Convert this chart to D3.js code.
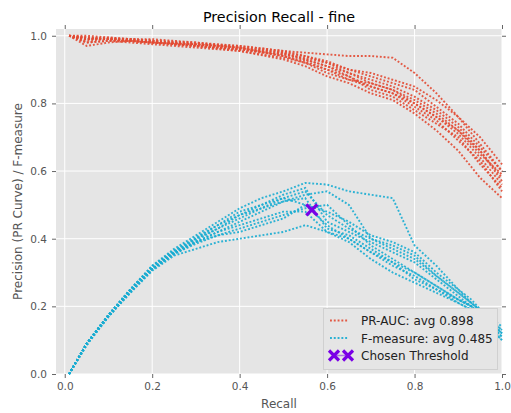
<!DOCTYPE html>
<html><head><meta charset="utf-8">
<script src="https://cdn.jsdelivr.net/npm/d3@7"></script>
<style>body{margin:0;background:#fff}text{font-family:"DejaVu Sans",sans-serif}</style>
</head><body><svg id="c" width="511" height="413"></svg>
<script>
const prRecall = [0.01,0.05,0.1,0.15,0.2,0.3,0.4,0.5,0.55,0.6,0.65,0.7,0.75,0.8,0.85,0.9,0.95,1.0];
const prPrecision = [
 [1.0,0.995,0.99,0.99,0.985,0.98,0.97,0.955,0.95,0.945,0.94,0.94,0.935,0.89,0.83,0.76,0.68,0.60],
 [1.0,0.97,0.98,0.985,0.98,0.975,0.965,0.94,0.92,0.89,0.87,0.86,0.84,0.80,0.76,0.72,0.66,0.58],
 [1.0,0.99,0.995,0.99,0.99,0.98,0.965,0.95,0.93,0.91,0.88,0.84,0.82,0.78,0.74,0.70,0.62,0.55],
 [1.0,0.985,0.99,0.985,0.98,0.97,0.96,0.945,0.935,0.92,0.9,0.88,0.86,0.84,0.79,0.74,0.67,0.60],
 [1.0,0.98,0.985,0.98,0.975,0.965,0.955,0.93,0.91,0.88,0.86,0.83,0.81,0.77,0.72,0.66,0.58,0.52],
 [1.0,1.0,0.995,0.99,0.985,0.975,0.97,0.955,0.94,0.925,0.9,0.89,0.87,0.85,0.81,0.76,0.70,0.62],
 [1.0,0.99,0.99,0.985,0.98,0.97,0.96,0.94,0.925,0.9,0.88,0.85,0.83,0.80,0.76,0.71,0.64,0.56],
 [1.0,0.995,0.99,0.99,0.985,0.975,0.965,0.95,0.94,0.92,0.89,0.87,0.85,0.82,0.78,0.73,0.66,0.57],
 [1.0,0.98,0.985,0.985,0.98,0.97,0.955,0.935,0.92,0.9,0.87,0.85,0.83,0.79,0.75,0.69,0.63,0.54],
 [1.0,0.99,0.99,0.985,0.98,0.975,0.96,0.945,0.93,0.91,0.89,0.86,0.84,0.81,0.77,0.72,0.65,0.59]
];
const fRecall = [0.01,0.05,0.1,0.15,0.2,0.25,0.3,0.35,0.4,0.45,0.5,0.55,0.6,0.65,0.7,0.75,0.8,0.85,0.9,0.93,1.0];
const fMeasure = [
 [0,0.09,0.175,0.25,0.32,0.37,0.41,0.45,0.49,0.52,0.54,0.565,0.56,0.54,0.53,0.52,0.38,0.32,0.25,0.21,0.13],
 [0,0.09,0.17,0.245,0.31,0.36,0.40,0.44,0.48,0.50,0.53,0.55,0.45,0.42,0.39,0.36,0.33,0.28,0.23,0.20,0.12],
 [0,0.085,0.17,0.24,0.31,0.355,0.39,0.42,0.45,0.48,0.51,0.52,0.43,0.41,0.37,0.33,0.30,0.26,0.22,0.20,0.11],
 [0,0.09,0.17,0.24,0.305,0.35,0.37,0.39,0.40,0.41,0.42,0.44,0.42,0.40,0.36,0.32,0.29,0.25,0.21,0.19,0.10],
 [0,0.09,0.175,0.25,0.315,0.36,0.39,0.41,0.43,0.45,0.47,0.49,0.50,0.44,0.38,0.34,0.30,0.26,0.22,0.20,0.12],
 [0,0.09,0.175,0.25,0.32,0.365,0.40,0.43,0.46,0.49,0.51,0.53,0.54,0.50,0.40,0.38,0.35,0.29,0.24,0.21,0.14],
 [0,0.09,0.17,0.245,0.31,0.36,0.395,0.43,0.47,0.49,0.52,0.50,0.44,0.40,0.36,0.33,0.28,0.25,0.22,0.20,0.11],
 [0,0.09,0.17,0.245,0.31,0.355,0.39,0.42,0.44,0.46,0.48,0.48,0.42,0.39,0.34,0.30,0.27,0.24,0.21,0.19,0.10],
 [0,0.09,0.175,0.25,0.315,0.365,0.405,0.44,0.47,0.50,0.52,0.54,0.47,0.43,0.40,0.37,0.34,0.29,0.24,0.21,0.13],
 [0,0.085,0.17,0.245,0.31,0.355,0.385,0.41,0.42,0.44,0.46,0.50,0.48,0.45,0.41,0.39,0.36,0.30,0.25,0.22,0.12]
];
const chosen = {recall: 0.565, f: 0.485};
const xTicks = [0,0.2,0.4,0.6,0.8,1.0];
const yTicks = [0,0.2,0.4,0.6,0.8,1.0];
const legendLabels = ["PR-AUC: avg 0.898","F-measure: avg 0.485","Chosen Threshold"];

const RED="#E24A33", BLUE="#17ACD2", PURPLE="#7A00E6";
const L=56,R=502,T=29,B=374;
const svg=d3.select("#c");
const x=d3.scaleLinear().domain([-0.02,1.0]).range([L,R]);
const y=d3.scaleLinear().domain([0,1.02]).range([B,T]);

svg.append("rect").attr("x",L).attr("y",T).attr("width",R-L).attr("height",B-T).attr("fill","#E5E5E5");
const grid=svg.append("g");
xTicks.forEach(t=>grid.append("line").attr("x1",x(t)).attr("x2",x(t)).attr("y1",T).attr("y2",B).attr("stroke","#fff").attr("stroke-width",1));
yTicks.forEach(t=>grid.append("line").attr("y1",y(t)).attr("y2",y(t)).attr("x1",L).attr("x2",R).attr("stroke","#fff").attr("stroke-width",1));

const tickFs=10.5;
function styleAxis(g){g.select(".domain").remove();g.selectAll(".tick line").attr("stroke","#666");g.selectAll(".tick text").attr("fill","#555").style("font-size",tickFs+"px").style("font-family","DejaVu Sans");}
svg.append("g").attr("transform",`translate(0,${B})`).call(d3.axisBottom(x).tickValues(xTicks).tickFormat(d3.format(".1f")).tickSize(4).tickPadding(5)).call(styleAxis);
svg.append("g").attr("transform",`translate(0,${T})`).call(d3.axisTop(x).tickValues(xTicks).tickFormat("").tickSize(4)).call(styleAxis);
svg.append("g").attr("transform",`translate(${L},0)`).call(d3.axisLeft(y).tickValues(yTicks).tickFormat(d3.format(".1f")).tickSize(4).tickPadding(5)).call(styleAxis);
svg.append("g").attr("transform",`translate(${R},0)`).call(d3.axisRight(y).tickValues(yTicks).tickFormat("").tickSize(4)).call(styleAxis);

svg.append("clipPath").attr("id","pc").append("rect").attr("x",L).attr("y",T-2).attr("width",R-L+2).attr("height",B-T+4);
const plot=svg.append("g").attr("clip-path","url(#pc)");
const line=d3.line().x(d=>x(d[0])).y(d=>y(d[1]));
const LW=1.9, DASH="1.9,1.9";
for(let i=0;i<prPrecision.length;i++){
  plot.append("path").datum(prRecall.map((r,j)=>[r,prPrecision[i][j]])).attr("d",line)
   .attr("fill","none").attr("stroke",RED).attr("stroke-width",LW).attr("stroke-dasharray",DASH).attr("opacity",0.9);
  plot.append("path").datum(fRecall.map((r,j)=>[r,fMeasure[i][j]])).attr("d",line)
   .attr("fill","none").attr("stroke",BLUE).attr("stroke-width",LW).attr("stroke-dasharray",DASH).attr("opacity",0.9);
}
function xMark(g,cx,cy,s,w){
  g.append("path").attr("d",`M${cx-s},${cy-s}L${cx+s},${cy+s}M${cx-s},${cy+s}L${cx+s},${cy-s}`)
   .attr("stroke",PURPLE).attr("stroke-width",w).attr("fill","none");
}
xMark(plot,x(chosen.recall),y(chosen.f),5.5,3.2);

// legend
const lg=svg.append("g");
lg.append("rect").attr("x",323.5).attr("y",308.5).attr("width",174).attr("height",61).attr("fill","#E5E5E5").attr("stroke","#d0d0d0").attr("stroke-width",1);
const rows=[320.5,338,355.5];
[RED,BLUE].forEach((c,i)=>{
  lg.append("line").attr("x1",330).attr("x2",349).attr("y1",rows[i]).attr("y2",rows[i]).attr("stroke",c).attr("stroke-width",LW).attr("stroke-dasharray",DASH).attr("opacity",0.9);
});
lg.append("line").attr("x1",334).attr("x2",348).attr("y1",rows[2]).attr("y2",rows[2]).attr("stroke",PURPLE).attr("stroke-width",1.5).attr("opacity",0.5);
xMark(lg,334,rows[2],5,3.2);xMark(lg,348,rows[2],5,3.2);
legendLabels.forEach((t,i)=>lg.append("text").attr("x",361).attr("y",rows[i]+4.5).text(t).attr("fill","#222").style("font-size","12px"));

svg.append("text").attr("x",(L+R)/2).attr("y",22).attr("text-anchor","middle").text("Precision Recall - fine").style("font-size","14.3px").attr("fill","#000");
svg.append("text").attr("x",(L+R)/2).attr("y",408).attr("text-anchor","middle").text("Recall").style("font-size","12px").attr("fill","#555");
svg.append("text").attr("transform",`translate(22,${(T+B)/2}) rotate(-90)`).attr("text-anchor","middle").text("Precision (PR Curve) / F-measure").style("font-size","12px").attr("fill","#555");
</script></body></html>
